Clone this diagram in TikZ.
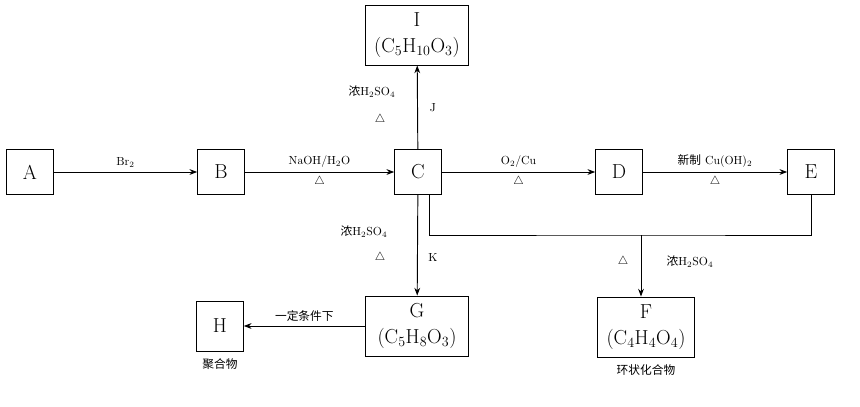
\documentclass[tikz,border=0pt]{standalone}
\usepackage{fontspec}
\newfontfamily\cjk{Noto Sans CJK SC}
\usetikzlibrary{arrows.meta,positioning}
\begin{document}
\begin{tikzpicture}[x=0.03cm,y=-0.03cm,>=Stealth,thick,
  box/.style={draw,thick,minimum width=1.4cm,minimum height=1.35cm,inner sep=2pt,font=\LARGE,align=center},
  wbox/.style={box,minimum width=3.1cm,minimum height=1.8cm,font=\LARGE},
  lab/.style={font=\normalsize}]
  \useasboundingbox (0,0) rectangle (860,406);
  \node[box] (a) at (30,172) {A};
  \node[box] (b) at (221,172) {B};
  \node[box] (c) at (418,172) {C};
  \node[box] (d) at (619,172) {D};
  \node[box] (e) at (811,172) {E};
  \node[wbox] (i) at (417,35) {I\\(C$_5$H$_{10}$O$_3$)};
  \node[wbox] (g) at (417,326) {G\\(C$_5$H$_8$O$_3$)};
  \node[box,minimum height=1.5cm] (h) at (220,326) {H};
  \node[wbox,minimum width=2.9cm] (f) at (646,327) {F\\(C$_4$H$_4$O$_4$)};
  \node[lab,below=2pt of h] (hl) {\cjk 聚合物};
  \node[lab,below=2pt of f] (fl) {\cjk 环状化合物};
  % main chain
  \draw[->] (a) -- (b) node[midway,above,lab] {Br$_2$};
  \draw[->] (b) -- (c) node[midway,above,lab] {NaOH/H$_2$O} node[midway,below,lab] {$\triangle$};
  \draw[->] (c) -- (d) node[midway,above,lab] {O$_2$/Cu} node[midway,below,lab] {$\triangle$};
  \draw[->] (d) -- (e) node[midway,above,lab] {{\cjk 新制} Cu(OH)$_2$} node[midway,below,lab] {$\triangle$};
  % up and down
  \draw[->] (c) -- (i);
  \node[lab] (j1) at (372,92) {{\cjk 浓}H$_2$SO$_4$};
  \node[lab] (j2) at (380,120) {$\triangle$};
  \node[lab] (j3) at (433,108) {J};
  \draw[->] (c) -- (g);
  \node[lab] (k1) at (364,232) {{\cjk 浓}H$_2$SO$_4$};
  \node[lab] (k2) at (380,258) {$\triangle$};
  \node[lab] (k3) at (433,257) {K};
  \draw[->] (g) -- (h) node[midway,above,lab] {\cjk 一定条件下};
  % C + E -> F
  \coordinate (m) at (641,235);
  \draw (c.south east) ++(-12,0) coordinate (cs) |- (m) -| (e.south);
  \draw[->] (m) -- (m |- f.north);
  \node[lab] (f1) at (623,262) {$\triangle$};
  \node[lab] (f2) at (690,262) {{\cjk 浓}H$_2$SO$_4$};
\end{tikzpicture}
\end{document}
